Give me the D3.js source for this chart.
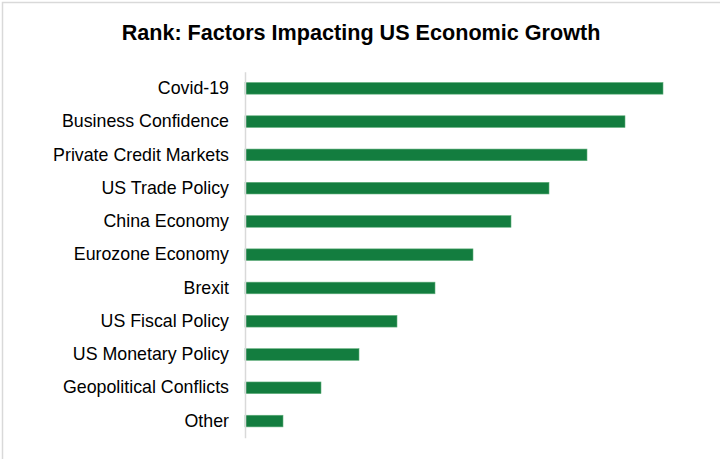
<!DOCTYPE html>
<html>
<head>
<meta charset="utf-8">
<script src="https://cdn.jsdelivr.net/npm/d3@7"></script>
<style>
  html, body { margin: 0; padding: 0; background: #fff; }
  svg { display: block; }
</style>
</head>
<body>
<div id="chart"></div>
<script>
// Factors ranked by their impact on US economic growth (higher = bigger impact)
const categories = [
  "Covid-19",
  "Business Confidence",
  "Private Credit Markets",
  "US Trade Policy",
  "China Economy",
  "Eurozone Economy",
  "Brexit",
  "US Fiscal Policy",
  "US Monetary Policy",
  "Geopolitical Conflicts",
  "Other"
];
const rankValues = [11, 10, 9, 8, 7, 6, 5, 4, 3, 2, 1];
const titleText = "Rank: Factors Impacting US Economic Growth";

const width = 720, height = 459;
const margin = { top: 71.7, right: 57, bottom: 21.3, left: 245 };

const svg = d3.select("#chart").append("svg")
  .attr("width", width)
  .attr("height", height);

// outer frame (top and left edges)
svg.append("path")
  .attr("d", `M2.5,${height} V2.5 H${width}`)
  .attr("fill", "none")
  .attr("stroke", "#d9d9d9")
  .attr("stroke-width", 1.5);

svg.append("text")
  .attr("x", 361)
  .attr("y", 40)
  .attr("text-anchor", "middle")
  .attr("font-family", "Liberation Sans, Arial, sans-serif")
  .attr("font-weight", "bold")
  .attr("font-size", 21.6)
  .attr("fill", "#000")
  .text(titleText);

const x = d3.scaleLinear()
  .domain([0, 11])
  .range([margin.left, width - margin.right]);

const y = d3.scaleBand()
  .domain(categories)
  .range([margin.top, height - margin.bottom])
  .paddingInner(0.65)
  .paddingOuter(0.325);

const data = categories.map((c, i) => ({ name: c, value: rankValues[i] }));

svg.append("g")
  .selectAll("rect")
  .data(data)
  .join("rect")
  .attr("x", x(0))
  .attr("y", d => y(d.name))
  .attr("width", d => x(d.value) - x(0))
  .attr("height", y.bandwidth())
  .attr("fill", "#137d3f")
  .attr("stroke", "#5fae7a")
  .attr("stroke-width", 0.6);

const yAxis = svg.append("g")
  .attr("transform", `translate(${x(0)},0)`)
  .call(d3.axisLeft(y).tickSize(0).tickPadding(16));

yAxis.select(".domain")
  .attr("stroke", "#d9d9d9")
  .attr("stroke-width", 1.5);

yAxis.selectAll("text")
  .attr("font-family", "Liberation Sans, Arial, sans-serif")
  .attr("font-size", 17.8)
  .attr("fill", "#000");
</script>
</body>
</html>
